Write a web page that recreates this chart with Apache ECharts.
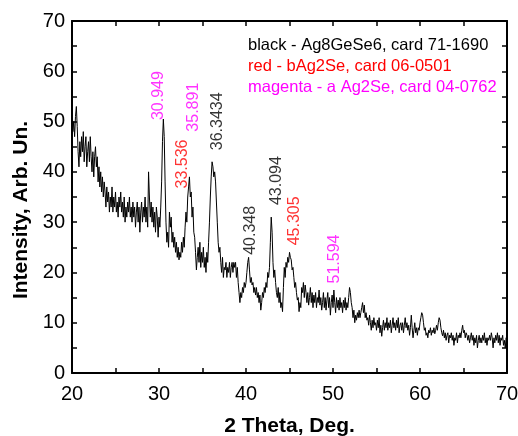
<!DOCTYPE html>
<html>
<head>
<meta charset="utf-8">
<script src="https://cdn.jsdelivr.net/npm/echarts@6/dist/echarts.min.js"></script>
<style>
  html, body { margin: 0; padding: 0; background: #fff; }
  #chart { width: 518px; height: 436px; }
</style>
</head>
<body>
<div id="chart"></div>
<script>
// 2 Theta from 20 to 70, one reading every 0.1 deg
var startTheta = 20;
var stepTheta = 0.1;
var intensity = [
  54, 48, 50, 47, 51, 53, 49, 44, 41, 46,
  43, 47, 44, 48, 42, 45, 47, 41, 44, 46,
  42, 47, 43, 40, 44, 39, 43, 45, 41, 43,
  38, 41, 37, 40, 36, 39, 35, 38, 36, 33,
  37, 34, 36, 32, 35, 33, 37, 32, 35, 33,
  36, 32, 34, 31, 35, 33, 36, 32, 34, 31,
  35, 30, 33, 31, 34, 32, 35, 31, 33, 30,
  34, 31, 33, 29, 32, 34, 30, 33, 28, 32,
  34, 30, 33, 31, 35, 30, 33, 29, 40, 35,
  31, 34, 30, 33, 29, 32, 28, 33, 31, 27,
  31, 29, 33, 38, 46, 50.5, 47, 38, 30, 26,
  28, 25, 32, 29, 31, 26, 28, 25, 27, 24,
  26, 23, 25, 22.5, 24, 23, 26, 24, 27, 25,
  29, 32, 30, 35, 37, 39, 35, 36, 31, 33,
  28, 27, 24, 20.5, 23, 25, 22, 26, 21, 24,
  22, 25, 21, 23, 20, 24, 22, 26, 30, 35,
  39, 42, 41, 39, 40, 38, 34, 30, 26, 24,
  25, 22, 20, 23, 19, 21, 20.5, 22, 19, 21,
  20, 22, 19, 21, 22, 20, 22, 21, 22, 19,
  21, 18, 16, 14, 16, 15, 17, 16, 18, 17,
  18, 20, 22, 23, 20.5, 18, 19, 17.5, 18, 16,
  17, 15.5, 17, 15, 16, 14, 15.5, 12.5, 14, 16,
  15, 17, 16, 18, 17, 20, 19, 21, 26, 31,
  28, 22, 19, 20.5, 18, 16, 15, 17, 14, 16,
  13, 14, 12.2, 17, 21, 19, 22, 21, 23, 22,
  24, 23, 22.5, 20.5, 21, 19, 17, 18, 16, 14.5,
  15, 12.2, 14, 13, 17, 16, 18, 15, 17.5, 16,
  14, 16, 13.5, 15, 17, 14, 16, 13, 15.5, 14,
  16, 13, 15, 14, 16.5, 13.5, 15, 12.5, 14, 16,
  13, 15, 12.5, 14.5, 16, 13, 15, 11.5, 14, 15.5,
  13, 16.5, 14, 12, 15, 13, 14.5, 12.5, 15, 13,
  14, 12, 14.5, 13, 15, 12.5, 14, 13, 15, 17,
  16, 14, 13, 11, 12.5, 10, 11.5, 10.5, 12, 11,
  12.5, 11, 12, 13, 14, 12, 13.5, 11, 12, 10.5,
  11, 9.5, 11.5, 10, 8.5, 10.5, 9, 11, 9.5, 10,
  8.5, 10.5, 9, 11, 8, 9.5, 7.3, 9, 10.5, 8.5,
  10, 9, 11, 8.5, 10, 9, 10.5, 8, 9.5, 11,
  9, 10, 8.5, 10.5, 9, 11, 8, 9.5, 10, 8.5,
  10, 8, 9.5, 11, 9, 10, 8.5, 9.5, 7.5, 9,
  11.5, 9, 7, 8.5, 10, 8, 9, 7.5, 9, 8.5,
  10, 11, 12, 11.5, 10, 8.5, 9, 7.5, 8, 7,
  8.5, 8, 9, 7.5, 8.5, 8, 9, 7.8, 8.5, 9.5,
  8.5, 10, 11, 10.5, 9, 8, 7.4, 8.5, 7, 8,
  6.5, 7.5, 8, 6, 7.5, 7, 8, 6.5, 7.5, 5.5,
  7, 6.5, 8, 6, 7.5, 7, 8, 7, 8.5, 9.5,
  8, 8.5, 7, 8, 7.5, 6.5, 7.5, 6, 7, 8,
  6.5, 7.5, 5.5, 7, 6, 7.5, 5, 6.5, 7.5, 6,
  7, 6, 7.5, 6.5, 8, 6, 7, 5.5, 7, 6.5,
  7.5, 6.5, 8, 7, 5, 7, 6, 7.5, 6.5, 8,
  6, 7.5, 5.5, 7, 6.5, 7.5, 5.5, 6.5, 5, 7,
  6.5
];

// peak annotations: text, phase, where the text starts (data coords)
var peakNames = ['30.949', '33.536', '35.891', '36.3434', '40.348', '43.094', '45.305', '51.594'];
var peakPhase = ['a', 'b', 'a', 'k', 'k', 'k', 'b', 'a'];
var peakX = [29.92, 32.74, 34.0, 36.72, 40.55, 43.53, 45.63, 50.14];
var peakY = [50.3, 36.7, 48.0, 44.3, 23.5, 33.4, 25.4, 17.8];

var legendLines = [
  'black - Ag8GeSe6, card 71-1690',
  'red - bAg2Se, card 06-0501',
  'magenta - a Ag2Se, card 04-0762'
];

var phaseColor = { k: '#000000', b: '#ff0000', a: '#ff00ff' };
var FONT = 'Arial, "Liberation Sans", sans-serif';

var curve = intensity.map(function(v, i) {
  return [+(startTheta + i * stepTheta).toFixed(1), v];
});

var peaks = peakNames.map(function(name, i) {
  return {
    name: name,
    value: [peakX[i], peakY[i]],
    label: { color: phaseColor[peakPhase[i]] }
  };
});

var legendColors = ['#000000', '#ff0000', '#ff00ff'];
var legendText = legendLines.map(function(t, i) {
  return {
    type: 'text',
    left: 248,
    top: 37 + i * 21,
    style: { text: t, fill: legendColors[i], font: '16.5px ' + FONT }
  };
});

function axisBase(extra) {
  var base = {
    type: 'value',
    interval: 10,
    axisLine: { show: true, onZero: false, lineStyle: { color: '#000', width: 2 } },
    axisTick: { show: true, inside: true, length: 5, lineStyle: { color: '#000', width: 1.5 } },
    minorTick: { show: true, splitNumber: 2, length: 5, lineStyle: { color: '#000', width: 1.5 } },
    splitLine: { show: false },
    axisLabel: { show: false }
  };
  return Object.assign(base, extra);
}

var chart = echarts.init(document.getElementById('chart'), null, { renderer: 'canvas' });
chart.setOption({
  animation: false,
  backgroundColor: '#fff',
  grid: { left: 72, right: 11, top: 21, bottom: 63, outerBoundsMode: 'none', containLabel: false },
  xAxis: [
    axisBase({
      min: 20, max: 70, position: 'bottom',
      name: '2 Theta, Deg.', nameLocation: 'middle', nameGap: 43,
      nameTextStyle: { fontFamily: FONT, fontSize: 21, fontWeight: 'bold', color: '#000' },
      axisLabel: { show: true, fontFamily: FONT, fontSize: 20, color: '#000', margin: 11 }
    }),
    axisBase({ min: 20, max: 70, position: 'top' })
  ],
  yAxis: [
    axisBase({
      min: 0, max: 70, position: 'left',
      name: 'Intensity, Arb. Un.', nameLocation: 'middle', nameGap: 40, nameRotate: 90,
      nameTextStyle: {
        fontFamily: FONT, fontSize: 21, fontWeight: 'bold', color: '#000',
        padding: [0, 26, 0, 0]
      },
      axisLabel: { show: true, fontFamily: FONT, fontSize: 20, color: '#000', margin: 7 }
    }),
    axisBase({ min: 0, max: 70, position: 'right' })
  ],
  series: [
    {
      type: 'line',
      data: curve,
      showSymbol: false,
      symbol: 'none',
      lineStyle: { color: '#000', width: 1 },
      silent: true
    },
    {
      type: 'scatter',
      data: peaks,
      symbolSize: 0,
      silent: true,
      label: {
        show: true,
        formatter: '{b}',
        position: 'inside',
        rotate: 90,
        align: 'left',
        verticalAlign: 'middle',
        fontFamily: FONT,
        fontSize: 16
      }
    }
  ],
  graphic: legendText
});
</script>
</body>
</html>
